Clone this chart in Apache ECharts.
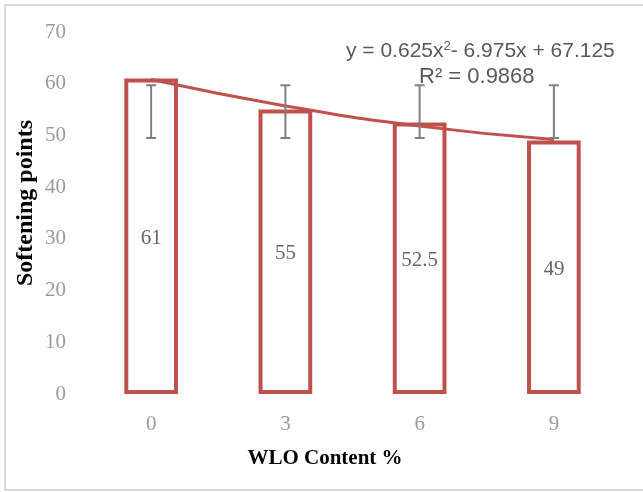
<!DOCTYPE html>
<html>
<head>
<meta charset="utf-8">
<script src="https://cdn.jsdelivr.net/npm/echarts@6/dist/echarts.min.js"></script>
<style>
  html, body { margin: 0; padding: 0; background: #fff; }
  #chart { width: 643px; height: 492px; }
</style>
</head>
<body>
<div id="chart"></div>
<script>
// WLO content categories and measured softening points
const categories = ['0', '3', '6', '9'];
const softening = [61, 55, 52.5, 49];
// error bar ranges (low / high)
const errLow = [49.5, 49.5, 49.5, 49.5];
const errHigh = [59.7, 59.7, 59.7, 59.7];
// polynomial trendline values at each category
const trend = [60.8, 55.7, 51.8, 49.2];
const yTicks = { min: 0, max: 70, interval: 10 };

const serif = '"Liberation Serif", "DejaVu Serif", serif';
const sans = '"Liberation Sans", Arial, sans-serif';
const red = '#c0504d';
const gray = '#595959';
const tickGray = '#9a9a9a';

const chart = echarts.init(document.getElementById('chart'), null, { renderer: 'canvas' });

chart.setOption({
  animation: false,
  backgroundColor: '#fff',
  grid: { left: 84, right: 22, top: 32, bottom: 98 },
  xAxis: {
    type: 'category',
    data: categories,
    axisLine: { show: false },
    axisTick: { show: false },
    axisLabel: { fontFamily: serif, fontSize: 21, color: tickGray, margin: 20 }
  },
  yAxis: {
    type: 'value',
    min: yTicks.min,
    max: yTicks.max,
    interval: yTicks.interval,
    axisLine: { show: false },
    axisTick: { show: false },
    splitLine: { show: false },
    axisLabel: { fontFamily: serif, fontSize: 21, color: tickGray, margin: 18 }
  },
  graphic: [
    {
      type: 'rect',
      shape: { x: 5, y: 5, width: 645, height: 485 },
      style: { fill: 'none', stroke: '#d9d9d9', lineWidth: 2 },
      silent: true
    },
    // axis titles
    {
      type: 'text',
      x: 26,
      y: 203,
      rotation: Math.PI / 2,
      style: {
        text: 'Softening points',
        fontFamily: serif, fontWeight: 'bold', fontSize: 24, fill: '#000',
        align: 'center', verticalAlign: 'middle'
      }
    },
    {
      type: 'text',
      x: 325,
      y: 459,
      style: {
        text: 'WLO Content %',
        fontFamily: serif, fontWeight: 'bold', fontSize: 21, fill: '#000',
        align: 'center', verticalAlign: 'middle'
      }
    },
    // trendline equation
    {
      type: 'text',
      left: 346,
      top: 40,
      style: {
        rich: {
          n: { fontFamily: sans, fontSize: 21, fill: gray },
          sup: { fontFamily: sans, fontSize: 13, fill: gray, verticalAlign: 'top', padding: [0, 0, 10, 0] }
        },
        text: '{n|y = 0.625x}{sup|2}{n|- 6.975x + 67.125}'
      }
    },
    {
      type: 'text',
      left: 419,
      top: 66,
      style: { text: 'R² = 0.9868', fontFamily: sans, fontSize: 22, fill: gray }
    }
  ],
  series: [
    {
      type: 'bar',
      data: softening,
      barWidth: '40%',
      itemStyle: { color: 'rgba(255,255,255,0)', borderColor: red, borderWidth: 4 },
      label: {
        show: true,
        position: 'inside',
        offset: [0, 2],
        fontFamily: serif,
        fontSize: 21,
        color: '#666666'
      },
      z: 2
    },
    {
      type: 'line',
      data: trend,
      smooth: true,
      symbol: 'none',
      lineStyle: { color: red, width: 3 },
      z: 3
    },
    {
      type: 'custom',
      data: categories.map((c, i) => [i, errLow[i], errHigh[i]]),
      renderItem: function (params, api) {
        const lo = api.coord([api.value(0), api.value(1)]);
        const hi = api.coord([api.value(0), api.value(2)]);
        const w = 5;
        const st = { stroke: '#808080', lineWidth: 2 };
        return {
          type: 'group',
          children: [
            { type: 'line', shape: { x1: lo[0], y1: lo[1], x2: hi[0], y2: hi[1] }, style: st },
            { type: 'line', shape: { x1: lo[0] - w, y1: lo[1], x2: lo[0] + w, y2: lo[1] }, style: st },
            { type: 'line', shape: { x1: hi[0] - w, y1: hi[1], x2: hi[0] + w, y2: hi[1] }, style: st }
          ]
        };
      },
      z: 4
    }
  ]
});
</script>
</body>
</html>
